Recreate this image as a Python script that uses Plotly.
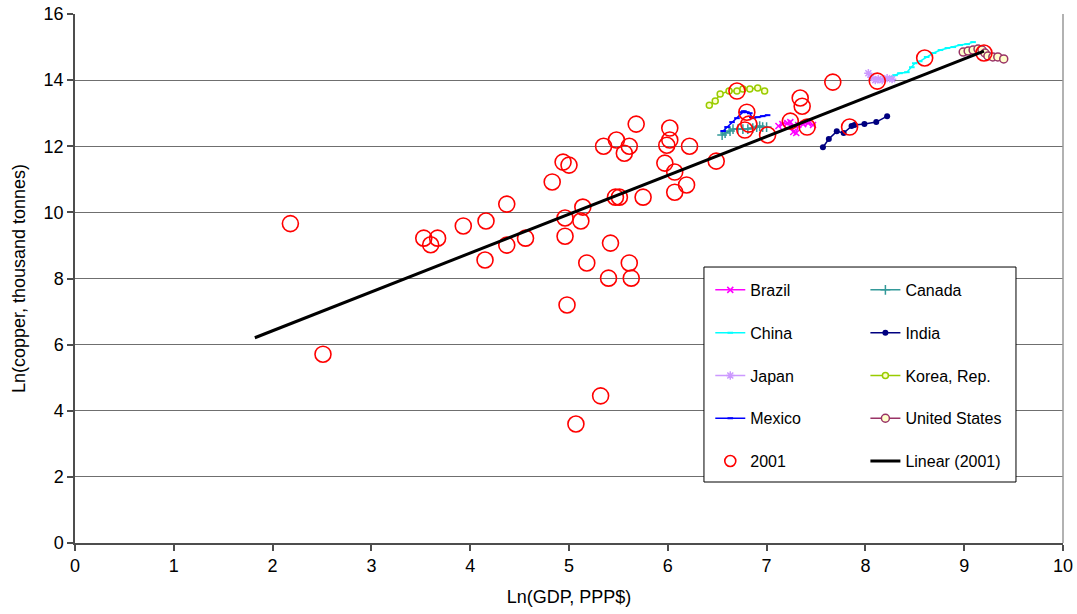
import plotly.graph_objects as go

# Ln(GDP, PPP$) vs Ln(copper consumption, thousand tonnes)

brazil_x = [7.12, 7.16, 7.21, 7.24, 7.27, 7.30, 7.32, 7.37, 7.42, 7.47]
brazil_y = [12.61, 12.67, 12.70, 12.73, 12.43, 12.40, 12.64, 12.67, 12.70, 12.64]

canada_x = [6.55, 6.58, 6.63, 6.66, 6.71, 6.76, 6.81, 6.86, 6.90, 6.93, 6.96, 7.00]
canada_y = [12.34, 12.40, 12.46, 12.52, 12.52, 12.52, 12.52, 12.55, 12.58, 12.61, 12.58, 12.58]

china_x = [8.22, 8.30, 8.35, 8.42, 8.47, 8.50, 8.55, 8.62, 8.69, 8.76, 8.83, 8.89, 8.96, 9.03, 9.09]
china_y = [14.06, 14.15, 14.21, 14.24, 14.39, 14.51, 14.57, 14.70, 14.82, 14.91, 14.97, 15.00, 15.06, 15.09, 15.15]

india_x = [7.57, 7.63, 7.71, 7.78, 7.86, 7.89, 7.99, 8.11, 8.22]
india_y = [11.97, 12.22, 12.45, 12.40, 12.61, 12.64, 12.67, 12.73, 12.91]

japan_x = [8.03, 8.06, 8.10, 8.13, 8.17, 8.22, 8.27]
japan_y = [14.21, 14.09, 14.00, 14.03, 14.00, 14.06, 14.03]

korea_x = [6.42, 6.48, 6.53, 6.62, 6.70, 6.76, 6.83, 6.91, 6.98]
korea_y = [13.24, 13.37, 13.58, 13.67, 13.67, 13.73, 13.73, 13.76, 13.67]

mexico_x = [6.56, 6.60, 6.65, 6.70, 6.75, 6.77, 6.80, 6.83, 6.85, 6.86, 6.91, 6.96, 7.01]
mexico_y = [12.46, 12.58, 12.73, 12.85, 13.03, 13.06, 13.03, 13.00, 12.88, 12.85, 12.88, 12.91, 12.94]

us_x = [8.99, 9.04, 9.09, 9.14, 9.18, 9.21, 9.24, 9.29, 9.34, 9.40]
us_y = [14.85, 14.88, 14.91, 14.94, 14.91, 14.82, 14.73, 14.70, 14.70, 14.64]

# Cross-section of countries in 2001
x2001 = [2.18, 2.51, 3.53, 3.60, 3.67, 3.93, 4.16, 4.37, 4.15, 4.37,
         4.56, 4.83, 4.94, 5.00, 4.96, 4.96, 5.14, 5.12, 5.47, 5.51,
         5.75, 5.18, 5.42, 5.61, 5.40, 5.63, 4.98, 5.97, 6.07, 6.07,
         6.19, 5.68, 5.35, 5.48, 5.61, 5.56, 6.02, 6.02, 5.99, 6.22,
         6.49, 6.70, 7.67, 8.12, 7.34, 7.36, 6.80, 6.82, 6.78, 7.24,
         7.41, 7.01, 7.84, 8.60, 9.20, 5.07, 5.32]
y2001 = [9.66, 5.71, 9.22, 9.02, 9.22, 9.59, 9.74, 10.25, 8.56, 9.01,
         9.22, 10.92, 11.52, 11.43, 9.83, 9.28, 10.16, 9.74, 10.46, 10.46,
         10.46, 8.47, 9.07, 8.47, 8.01, 8.01, 7.20, 11.49, 11.22, 10.61,
         10.83, 12.67, 12.00, 12.19, 12.00, 11.79, 12.55, 12.19, 12.03, 12.00,
         11.55, 13.67, 13.94, 13.97, 13.46, 13.21, 13.03, 12.67, 12.49, 12.76,
         12.58, 12.34, 12.58, 14.67, 14.82, 3.60, 4.45]

# Linear trend fitted to the 2001 cross-section
trend_slope = 1.175
trend_intercept = 4.07
trend_x = [1.82, 9.20]
trend_y = [trend_intercept + trend_slope * v for v in trend_x]

FONT = "Liberation Sans, Arial, sans-serif"

fig = go.Figure()


def country(name, xs, ys, color, marker, legend):
    fig.add_trace(go.Scatter(
        x=xs, y=ys, name=name, mode="lines+markers",
        line=dict(color=color, width=1.5),
        marker=marker, legend=legend, legendgroup=name,
    ))


country("Brazil", brazil_x, brazil_y, "#FF00FF",
        dict(symbol="x-thin", size=6, color="#FF00FF", line=dict(color="#FF00FF", width=1.5)), "legend")
country("Canada", canada_x, canada_y, "#339999",
        dict(symbol="cross-thin", size=7, color="#339999", line=dict(color="#339999", width=1.5)), "legend2")
country("China", china_x, china_y, "#00FFFF",
        dict(symbol="line-ew", size=4, color="#00FFFF", line=dict(color="#00FFFF", width=2)), "legend")
country("India", india_x, india_y, "#000080",
        dict(symbol="circle", size=6, color="#000080"), "legend2")
country("Japan", japan_x, japan_y, "#CC99FF",
        dict(symbol="asterisk", size=7, color="#CC99FF", line=dict(color="#CC99FF", width=1.5)), "legend")
country("Korea, Rep.", korea_x, korea_y, "#99CC00",
        dict(symbol="circle", size=6, color="#FFFFCC", line=dict(color="#99CC00", width=1.5)), "legend2")
country("Mexico", mexico_x, mexico_y, "#0000FF",
        dict(symbol="line-ew", size=4, color="#0000FF", line=dict(color="#0000FF", width=2)), "legend")
country("United States", us_x, us_y, "#993366",
        dict(symbol="circle", size=8, color="#FFFFCC", line=dict(color="#993366", width=1.5)), "legend2")

# 2001 points (drawn large, listed in the legend with a smaller circle)
fig.add_trace(go.Scatter(
    x=x2001, y=y2001, name="2001", mode="markers", showlegend=False,
    marker=dict(symbol="circle-open", size=16, color="#FF0000", line=dict(color="#FF0000", width=1.6)),
    legendgroup="2001",
))
fig.add_trace(go.Scatter(
    x=[None], y=[None], name="2001", mode="markers",
    marker=dict(symbol="circle-open", size=11, color="#FF0000", line=dict(color="#FF0000", width=1.6)),
    legend="legend", legendgroup="2001",
))
fig.add_trace(go.Scatter(
    x=trend_x, y=trend_y, name="Linear (2001)", mode="lines",
    line=dict(color="#000000", width=3),
    legend="legend2", legendgroup="Linear (2001)",
))

legend_style = dict(
    bgcolor="rgba(0,0,0,0)", borderwidth=0,
    font=dict(family=FONT, size=16, color="#000000"),
    tracegroupgap=19, itemsizing="trace",
    xanchor="left", yanchor="top", orientation="v",
    traceorder="grouped",
)

fig.update_layout(
    width=1077, height=614,
    margin=dict(l=75, r=14, t=14, b=71),
    paper_bgcolor="#FFFFFF", plot_bgcolor="#FFFFFF",
    font=dict(family=FONT, size=18, color="#000000"),
    showlegend=True,
    legend=dict(x=0.643, y=0.5105, **legend_style),
    legend2=dict(x=0.800, y=0.5105, **legend_style),
    xaxis=dict(
        range=[0, 10], dtick=1, tick0=0, automargin=False,
        showgrid=False, zeroline=False,
        showline=True, linecolor="#4D4D4D", linewidth=1.5,
        ticks="outside", ticklen=6, tickcolor="#4D4D4D", tickwidth=1.5,
        tickfont=dict(family=FONT, size=18),
        title=dict(text="Ln(GDP, PPP$)", font=dict(family=FONT, size=18), standoff=15),
    ),
    yaxis=dict(
        range=[0, 16], dtick=2, tick0=0, automargin=False,
        showgrid=True, gridcolor="#6F6F6F", gridwidth=1,
        zeroline=False,
        showline=True, linecolor="#4D4D4D", linewidth=1.5,
        ticks="outside", ticklen=6, tickcolor="#4D4D4D", tickwidth=1.5,
        tickfont=dict(family=FONT, size=18),
        title=dict(text="Ln(copper, thousand tonnes)", font=dict(family=FONT, size=18), standoff=13),
    ),
    shapes=[
        # right edge of the plot area
        dict(type="line", xref="x domain", yref="y domain", x0=1, x1=1, y0=0, y1=1,
             line=dict(color="#999999", width=1.5), layer="above"),
        # legend frame
        dict(type="rect", xref="paper", yref="paper", x0=0.6366, x1=0.9524, y0=0.1153, y1=0.5217,
             line=dict(color="#000000", width=1), fillcolor="#FFFFFF", layer="above"),
    ],
)

fig.write_html("out.html")
